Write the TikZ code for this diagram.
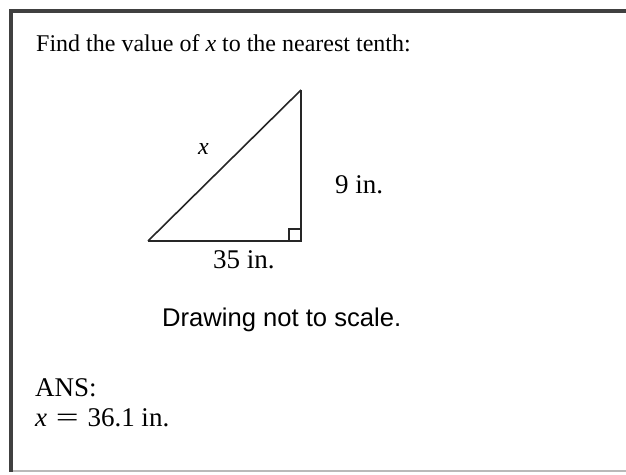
\documentclass[tikz,border=0pt]{standalone}
\usepackage{fontspec}
\setmainfont{Liberation Serif}
\setsansfont{Liberation Sans}

\begin{document}
\begin{tikzpicture}[
    x=1pt, y=-1pt,
    txt/.style={font=\fontsize{24}{28}\selectfont, inner sep=0pt, anchor=base west},
    big/.style={txt, font=\fontsize{27}{30}\selectfont},
    side/.style={line width=2pt, black!85},
    frame/.style={line width=3.5pt, black!75}
]
    \useasboundingbox (0,0) rectangle (626,474);

    % Frame of the card
    \draw[gray!55, line width=1.2pt] (10,471) -- (626,471);
    \draw[frame] (626,11) -- (11,11) -- (11,472);

    % Question
    \node[txt] (qtext) at (36,51) {Find the value of \textit{x} to the nearest tenth:};

    % Triangle
    \coordinate (A) at (148,241);
    \coordinate (B) at (301,241);
    \coordinate (C) at (301,90);
    \draw[side, line width=1.6pt] (A) -- (C);
    \draw[side] (A) -- (B) -- (C);
    \draw[line width=1.4pt, black!85] (B) ++(-12,0) -- ++(0,-12) -- ++(12,0);

    % Side labels
    \node[txt] (xlbl) at (198,154) {\textit{x}};
    \node[big] (hlbl) at (335,193) {9 in.};
    \node[big] (blbl) at (213,268) {35 in.};

    % Note
    \node[txt, font=\sffamily\fontsize{25.6}{28}\selectfont] (note) at (162,326) {Drawing not to scale.};

    % Answer
    \node[big] (ans) at (35,396) {ANS:};
    \node[big] (ansval) at (35,426) {\textit{x}\hspace{2pt} \scalebox{1.5}[1]{=} \hspace{2pt}36.1 in.};
\end{tikzpicture}
\end{document}
